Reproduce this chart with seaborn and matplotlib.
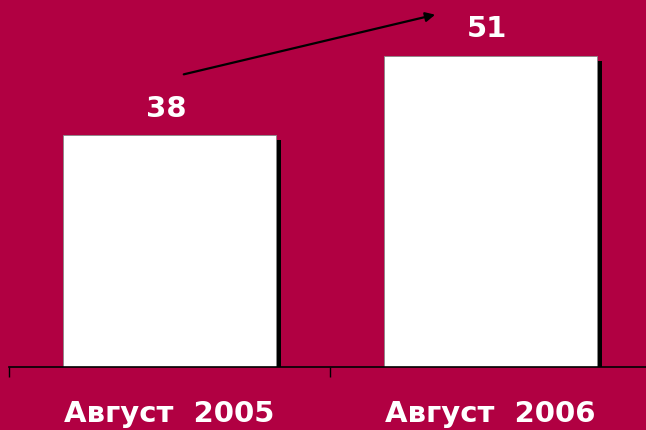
import pandas as pd
import seaborn as sns
import matplotlib.pyplot as plt
import matplotlib.patheffects as pe

periods = ["Август  2005", "Август  2006"]
values = [38, 51]

bg = "#B10042"

sns.set_theme(style="white")
plt.rcParams['font.family'] = ['DejaVu Sans']

df = pd.DataFrame({"period": periods, "value": values})

fig = plt.figure(figsize=(6.46, 4.3), dpi=100, facecolor=bg)
ax = fig.add_axes([9 / 646, 63 / 430, 642 / 646, 367 / 430])
ax.set_facecolor(bg)

sns.barplot(ax=ax, data=df, x="period", y="value", color="white",
            width=0.663, edgecolor="#888888", linewidth=0.6, saturation=1)
for bar in ax.patches:
    bar.set_path_effects([pe.SimplePatchShadow(offset=(4.0, -3.2), shadow_rgbFace="black", alpha=1.0),
                          pe.Normal()])

for i, v in enumerate(values):
    ax.text(i - 0.01, v + 4.4, str(v), ha="center", va="center", color="white",
            fontsize=21, fontweight="bold")

ax.annotate("", xy=(0.836, 57.9), xytext=(0.036, 47.9),
            arrowprops=dict(arrowstyle="-|>", color="black", lw=1.6, mutation_scale=14))

ax.set_xlim(-0.5, 1.5)
ax.set_ylim(0, 60.2)
ax.set_xlabel("")
ax.set_ylabel("")
ax.set_yticks([])
for s in ["top", "right", "left"]:
    ax.spines[s].set_visible(False)
ax.spines["bottom"].set_color("black")
ax.spines["bottom"].set_linewidth(1.2)

ax.set_xticks([-0.5, 0.5, 1.5], minor=True)
ax.tick_params(axis="x", which="minor", bottom=True, length=7.5, width=1.0, color="black", direction="out")
ax.tick_params(axis="x", which="major", bottom=True, length=0, pad=24, labelsize=21, labelcolor="white")
for lbl in ax.get_xticklabels():
    lbl.set_fontweight("bold")

fig.savefig("out.png", dpi=100, facecolor=bg)
